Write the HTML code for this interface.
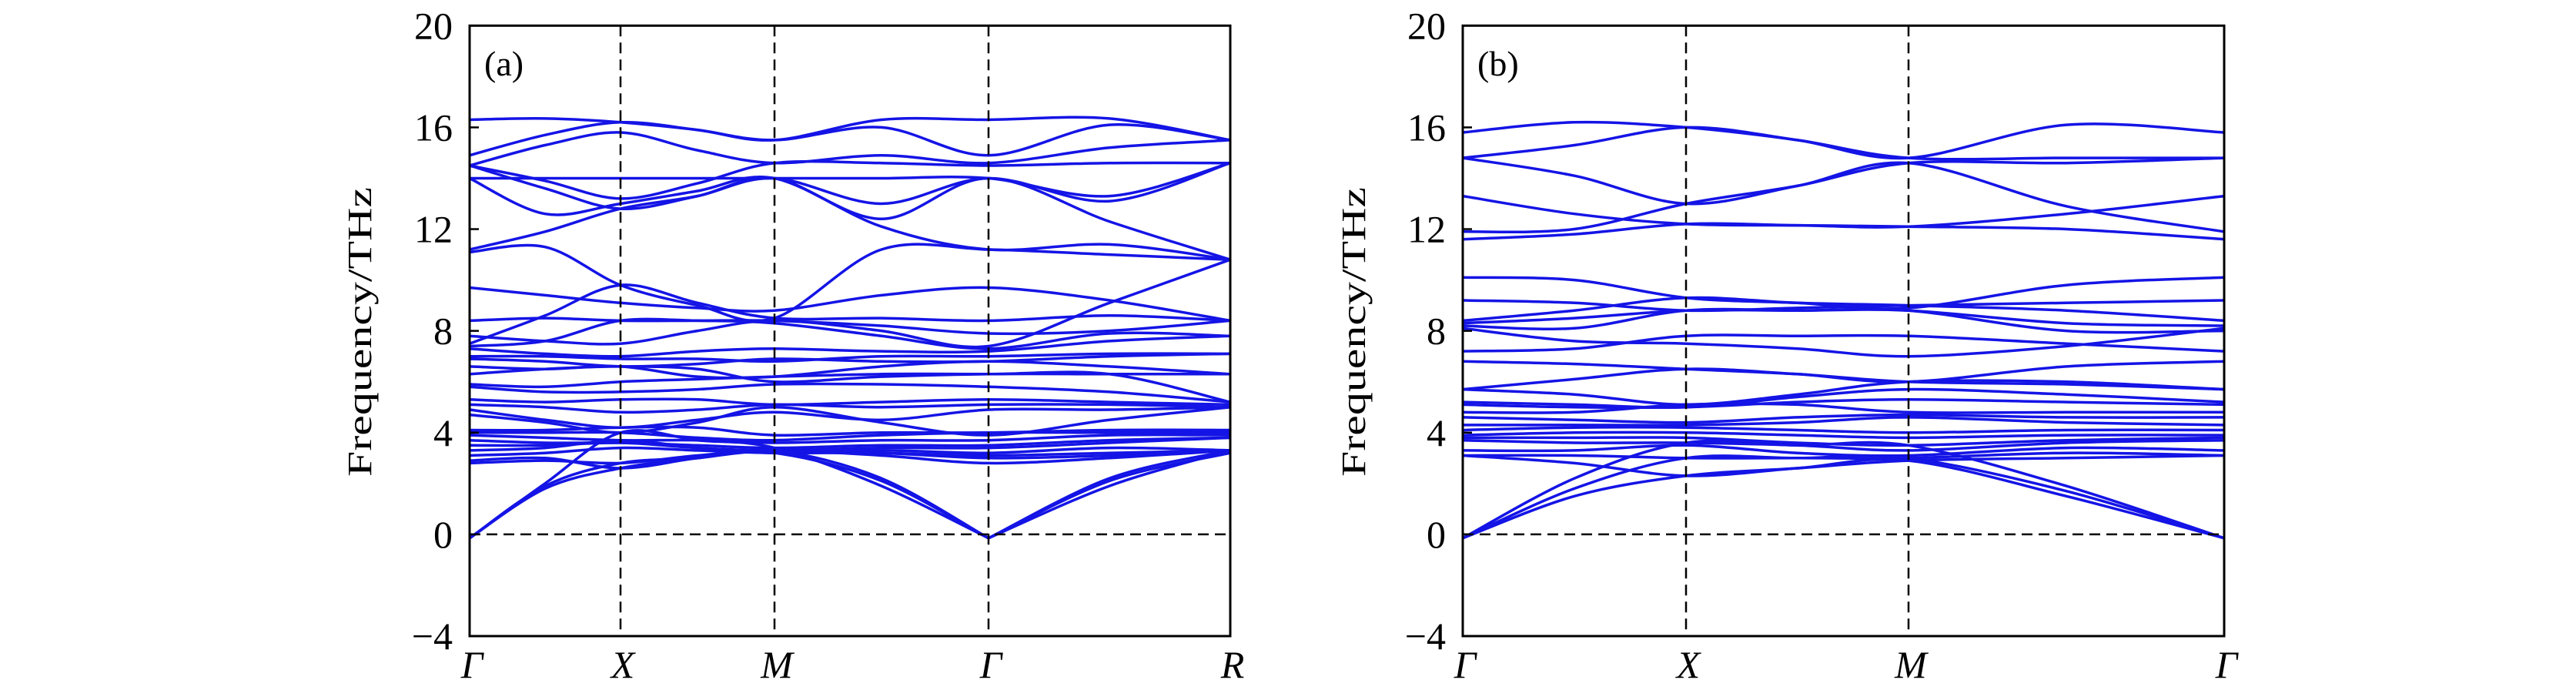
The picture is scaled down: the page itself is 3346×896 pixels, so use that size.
<!DOCTYPE html>
<html><head><meta charset="utf-8"><style>
html,body{margin:0;padding:0;background:#fff;}
svg{display:block;}
text{font-family:"Liberation Serif",serif;fill:#000;}
</style></head><body>
<svg id="fig" width="3346" height="896" viewBox="0 0 3346 896" xmlns="http://www.w3.org/2000/svg"></svg>
<script>
// ---- data ----
const yTicks = [-4, 0, 4, 8, 12, 16, 20];
const labelsA = ["Γ", "X", "M", "Γ", "R"];
const labelsB = ["Γ", "X", "M", "Γ"];
// band frequencies (THz) sampled at: node, mid, node, mid, ...
const bandsA = [
[16.3,16.35,16.2,15.9,15.5,16.3,16.3,16.35,15.5],
[14.9,15.7,16.2,15.9,15.5,16.0,14.9,16.1,15.5],
[14.5,15.3,15.8,15.1,14.6,14.9,14.6,15.2,15.5],
[14.5,13.9,13.2,13.8,14.6,14.6,14.5,14.6,14.6],
[14.0,14.0,14.0,14.0,14.0,14.0,14.0,13.3,14.6],
[14.5,13.6,12.8,13.3,14.0,12.4,14.0,12.3,10.8],
[14.0,12.6,13.0,13.5,14.0,12.1,11.2,11.4,10.8],
[11.2,11.9,12.8,13.3,14.0,13.0,14.0,13.1,14.6],
[11.1,11.3,9.8,9.0,8.5,11.2,11.2,11.0,10.8],
[9.7,9.4,9.1,8.9,8.8,9.4,9.7,9.2,8.4],
[7.5,8.6,9.8,9.1,8.5,8.5,8.4,8.6,8.4],
[8.4,8.5,8.4,8.4,8.4,8.2,7.9,8.0,8.4],
[7.8,7.6,7.5,8.0,8.4,8.0,7.4,9.1,10.8],
[7.4,7.6,8.4,8.4,8.3,7.8,7.3,7.9,7.8],
[7.3,7.1,7.0,7.2,7.3,7.2,7.2,7.6,7.8],
[7.0,7.0,6.9,6.9,6.8,7.0,7.0,7.1,7.1],
[6.9,6.8,6.6,6.7,6.9,6.8,6.8,7.0,7.1],
[6.6,6.5,6.6,6.2,6.2,6.6,6.8,6.6,6.3],
[6.3,6.5,6.6,6.5,6.0,6.2,6.3,6.3,6.3],
[5.9,5.8,6.0,6.1,6.2,6.3,6.3,6.3,5.2],
[5.8,5.6,5.6,5.7,5.9,5.9,5.8,5.6,5.2],
[5.3,5.2,5.3,5.3,5.1,5.2,5.3,5.2,5.1],
[5.1,5.0,4.8,4.9,5.1,5.0,5.1,5.1,5.0],
[4.9,4.5,4.2,4.5,4.8,4.5,4.9,4.9,5.0],
[4.7,4.4,4.0,4.4,5.0,4.4,3.9,4.5,5.0],
[4.1,4.1,4.2,4.2,3.9,4.0,4.0,4.1,4.1],
[4.0,4.0,4.0,3.8,3.7,3.9,4.0,4.0,4.0],
[3.9,3.8,3.7,3.7,3.6,3.7,3.7,3.9,3.9],
[3.7,3.6,3.6,3.5,3.4,3.5,3.5,3.7,3.8],
[3.5,3.5,3.6,3.4,3.3,3.4,3.4,3.6,3.8],
[3.3,3.4,3.7,3.4,3.2,3.3,3.2,3.4,3.3],
[3.1,3.2,3.4,3.3,3.2,3.2,3.1,3.2,3.3],
[2.8,2.9,2.8,3.1,3.3,3.1,2.8,3.0,3.3],
[2.9,3.0,2.6,3.0,3.3,3.2,3.0,3.1,3.3],
[-0.15,2.0,4.0,3.7,3.4,1.9,-0.15,1.9,3.3],
[-0.15,1.9,2.8,3.0,3.3,2.2,-0.15,2.2,3.3],
[-0.15,1.8,2.6,3.0,3.2,2.1,-0.15,2.1,3.2]
];
const bandsB = [
[15.8,16.2,16.0,15.5,14.8,16.1,15.8],
[14.8,15.3,16.0,15.5,14.8,14.8,14.8],
[14.8,14.1,13.0,13.7,14.6,14.6,14.8],
[13.3,12.6,12.2,12.15,12.1,12.6,13.3],
[11.9,12.0,13.0,13.7,14.6,12.9,11.9],
[11.6,11.8,12.2,12.15,12.1,12.0,11.6],
[10.1,10.0,9.3,9.1,8.9,9.8,10.1],
[9.2,9.1,8.8,8.9,9.0,9.1,9.2],
[8.4,8.8,9.3,9.1,9.0,8.8,8.4],
[8.3,8.5,8.8,8.8,8.8,8.3,8.2],
[8.2,8.1,8.8,8.8,8.8,8.0,8.0],
[8.1,7.6,7.5,7.3,7.0,7.4,8.1],
[7.2,7.3,7.8,7.8,7.8,7.5,7.2],
[6.8,6.7,6.5,6.3,6.0,6.6,6.8],
[5.7,6.1,6.5,6.3,6.0,5.9,5.7],
[5.7,5.5,5.1,5.5,6.0,6.0,5.7],
[5.2,5.1,5.0,5.4,5.7,5.5,5.2],
[5.1,5.0,5.0,5.2,5.3,5.2,5.1],
[4.8,4.8,5.1,5.1,4.8,4.8,4.8],
[4.6,4.5,4.4,4.6,4.7,4.6,4.6],
[4.3,4.3,4.3,4.4,4.6,4.4,4.3],
[4.1,4.2,4.2,4.1,4.0,4.1,4.1],
[3.9,4.0,4.0,3.9,3.8,3.9,3.9],
[3.8,3.8,3.8,3.6,3.5,3.7,3.8],
[3.7,3.6,3.6,3.5,3.3,3.6,3.7],
[3.3,3.3,3.5,3.2,3.1,3.4,3.3],
[3.1,3.1,3.0,3.0,3.0,3.2,3.1],
[3.1,2.8,2.3,2.6,2.9,3.0,3.1],
[-0.15,2.2,3.6,3.5,3.5,1.9,-0.15],
[-0.15,1.8,3.0,3.0,3.0,1.7,-0.15],
[-0.15,1.5,2.3,2.6,2.9,1.5,-0.15]
];
</script>
<script>
const NS = "http://www.w3.org/2000/svg";
const svg = document.getElementById("fig");
const TOP = 33.3, BOT = 826, YMIN = -4, YMAX = 20;
function yScale(v){ return BOT - (v - YMIN) / (YMAX - YMIN) * (BOT - TOP); }
function mk(tag, attrs, parent){ const e = document.createElementNS(NS, tag); for (const k in attrs) e.setAttribute(k, attrs[k]); (parent||svg).appendChild(e); return e; }

function crPath(pts, vals){
  let d = "M" + pts[0][0].toFixed(1) + "," + pts[0][1].toFixed(1);
  for (let i = 0; i < pts.length - 1; i++){
    const c1i = vals[i] < 0.5, c2i = vals[i+1] < 0.5;
    const p0 = (c1i ? pts[i] : (pts[i-1] || pts[i])), p1 = pts[i], p2 = pts[i+1], p3 = (c2i ? pts[i+1] : (pts[i+2] || pts[i+1]));
    const c1 = [p1[0] + (p2[0]-p0[0])/6, p1[1] + (p2[1]-p0[1])/6];
    const c2 = [p2[0] - (p3[0]-p1[0])/6, p2[1] - (p3[1]-p1[1])/6];
    d += "C" + c1[0].toFixed(1) + "," + c1[1].toFixed(1) + " " + c2[0].toFixed(1) + "," + c2[1].toFixed(1) + " " + p2[0].toFixed(1) + "," + p2[1].toFixed(1);
  }
  return d;
}

function panel(id, L, R, nodes, labels, bands, tag, ylabelX){
  const g = mk("g", {});
  
  
  const xs = [];
  for (let i = 0; i < nodes.length; i++){
    xs.push(nodes[i]);
    if (i < nodes.length - 1) xs.push((nodes[i] + nodes[i+1]) / 2);
  }
  const bg = mk("g", {}, g);
  
  
  bands.forEach((b, bi) => {
    const pts = b.map((v, i) => [xs[i], yScale(v)]);
    const p = mk("path", {d: crPath(pts, b), fill: "none", stroke: "#1414e6", "stroke-width": 3.5, "stroke-linejoin": "round"}, bg);
    
    
  });
  for (let i = 1; i < nodes.length - 1; i++){
    const l = mk("line", {x1: nodes[i], x2: nodes[i], y1: TOP, y2: BOT, stroke: "#000", "stroke-width": 2.5, "stroke-dasharray": "14,8"}, g);
    
    
  }
  const z = mk("line", {x1: L, x2: R, y1: yScale(0), y2: yScale(0), stroke: "#000", "stroke-width": 2.5, "stroke-dasharray": "14,8"}, g);
  
  
  const f = mk("rect", {x: L, y: TOP, width: R - L, height: BOT - TOP, fill: "none", stroke: "#000", "stroke-width": 3}, g);
  
  
  yTicks.forEach(t => {
    const y = yScale(t);
    const tk = mk("line", {x1: L, x2: L + 12, y1: y, y2: y, stroke: "#000", "stroke-width": 2.5}, g);
    
    
    const tx = mk("text", {x: L - 22, y: y + 17, "text-anchor": "end", "font-size": 50}, g);
    tx.textContent = t < 0 ? "\u2212" + Math.abs(t) : String(t);
    
    
  });
  nodes.forEach((x, i) => {
    const tx = mk("text", {x: x + 3, y: 880, "text-anchor": "middle", "font-size": 50, "font-style": "italic"}, g);
    tx.textContent = labels[i];
    
    
  });
  const pt = mk("text", {x: L + 19, y: 98, "font-size": 46}, g);
  pt.textContent = tag;
  
  
  const yt = mk("text", {x: 0, y: 0, "text-anchor": "middle", "font-size": 44, "textLength": 376, "lengthAdjust": "spacingAndGlyphs", transform: "translate(" + (ylabelX + 15) + ",431) rotate(-90)"}, g);
  yt.textContent = "Frequency/THz";
  
  
}

panel("a", 610, 1598, [610, 806, 1006, 1284, 1598], labelsA, bandsA, "(a)", 467);
panel("b", 1900, 2889, [1900, 2190, 2479, 2889], labelsB, bandsB, "(b)", 1758);
</script>
</body></html>
